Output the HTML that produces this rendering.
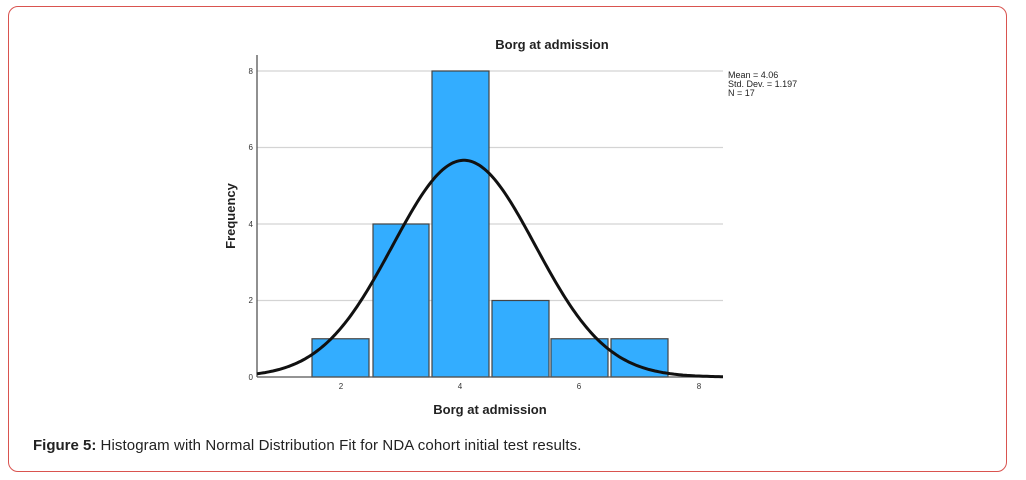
<!DOCTYPE html>
<html><head><meta charset="utf-8"><style>
html,body{margin:0;padding:0;background:#fff;}
body{width:1026px;height:480px;position:relative;overflow:hidden;font-family:"Liberation Sans",Arial,sans-serif;}
.frame{position:absolute;left:8px;top:6px;width:999px;height:466px;border:1px solid #d9534f;border-radius:10px;box-sizing:border-box;}
.cap{position:absolute;left:33px;top:437px;font-size:15px;color:#222;}
.cap span{letter-spacing:0.1px;}
</style></head><body>
<div class="frame"></div>
<svg width="1026" height="480" style="position:absolute;left:0;top:0" font-family="Liberation Sans, Arial, sans-serif">
<g stroke="#d4d4d4" stroke-width="1.3">
<line x1="257" y1="71" x2="723" y2="71"/><line x1="257" y1="147.5" x2="723" y2="147.5"/>
<line x1="257" y1="224" x2="723" y2="224"/><line x1="257" y1="300.5" x2="723" y2="300.5"/>
</g>
<g fill="#33adff" stroke="#444" stroke-width="1.2">
<rect x="312" y="338.75" width="57" height="38.25"/>
<rect x="373" y="224" width="56" height="153"/>
<rect x="432" y="71" width="57" height="306"/>
<rect x="492" y="300.5" width="57" height="76.5"/>
<rect x="551" y="338.75" width="57" height="38.25"/>
<rect x="611" y="338.75" width="57" height="38.25"/>
</g>
<line x1="257" y1="55" x2="257" y2="377" stroke="#555" stroke-width="1.3"/>
<line x1="257" y1="377" x2="723" y2="377" stroke="#555" stroke-width="1.3"/>
<path id="curve" fill="none" stroke="#111" stroke-width="3"/>
<g font-size="8" fill="#333" text-anchor="end">
<text x="253" y="74">8</text><text x="253" y="150">6</text><text x="253" y="227">4</text><text x="253" y="303">2</text><text x="253" y="380">0</text>
</g>
<g font-size="8" fill="#333" text-anchor="middle">
<text x="341" y="389">2</text><text x="460" y="389">4</text><text x="579" y="389">6</text><text x="699" y="389">8</text>
</g>
<text x="552" y="49" font-size="13" font-weight="bold" fill="#222" text-anchor="middle">Borg at admission</text>
<text x="490" y="414" font-size="13" font-weight="bold" fill="#222" text-anchor="middle">Borg at admission</text>
<text transform="translate(235,216) rotate(-90)" font-size="13" font-weight="bold" fill="#222" text-anchor="middle">Frequency</text>
<g font-size="9" fill="#222">
<text x="728" y="78">Mean = 4.06</text><text x="728" y="87">Std. Dev. = 1.197</text><text x="728" y="96">N = 17</text>
</g>
</svg>
<div class="cap"><b>Figure 5:</b> <span>Histogram with Normal Distribution Fit for NDA cohort initial test results.</span></div>
<script>
var d="",m=4.06,s=1.197,A=17/(s*Math.sqrt(2*Math.PI));
for(var px=257;px<=723;px+=2){var v=(px-222)/59.6;var f=A*Math.exp(-0.5*Math.pow((v-m)/s,2));var y=377-f*38.25;d+=(d?"L":"M")+px+","+y.toFixed(1);}
document.getElementById("curve").setAttribute("d",d);
</script>
</body></html>
